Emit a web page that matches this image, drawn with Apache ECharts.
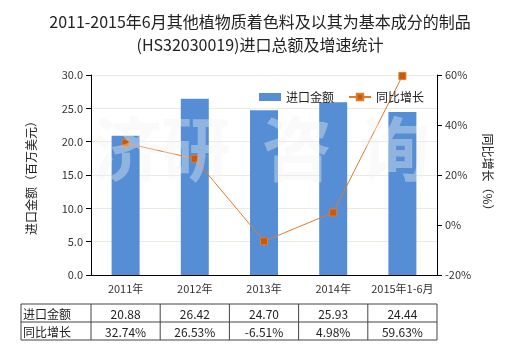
<!DOCTYPE html>
<html><head><meta charset="utf-8">
<script src="https://cdn.jsdelivr.net/npm/echarts@6/dist/echarts.min.js"></script>
<style>html,body{margin:0;padding:0;background:#fff}#c{width:520px;height:350px}</style>
</head><body><div id="c"></div>
<script>
var categories = ['2011年','2012年','2013年','2014年','2015年1-6月'];
var importValues = [20.88, 26.42, 24.70, 25.93, 24.44];
var growthValues = [32.74, 26.53, -6.51, 4.98, 59.63];
var importLabels = ['20.88','26.42','24.70','25.93','24.44'];
var growthLabels = ['32.74%','26.53%','-6.51%','4.98%','59.63%'];
var seriesNames = ['进口金额','同比增长'];

var FONT = '"Microsoft YaHei","Noto Sans CJK SC",sans-serif';
var chart = echarts.init(document.getElementById('c'), null, {renderer:'canvas'});
var option = {
  backgroundColor:'#fff',
  animation:false,
  textStyle:{fontFamily:FONT},
  title:{
    text:'2011-2015年6月其他植物质着色料及以其为基本成分的制品\n(HS32030019)进口总额及增速统计',
    left:'center', top:5,
    textStyle:{fontSize:16, fontWeight:'normal', color:'#222', lineHeight:23, fontFamily:FONT}
  },
  legend:{
    left:254, top:86, itemWidth:22, itemHeight:8, itemGap:14,
    textStyle:{fontSize:12, color:'#222', fontFamily:FONT},
    data:[{name:seriesNames[0], icon:'rect'},{name:seriesNames[1]}]
  },
  grid:{left:91, right:83, top:75, bottom:75},
  xAxis:{
    type:'category', data:categories,
    axisLine:{lineStyle:{color:'#000'}},
    axisTick:{alignWithLabel:true, length:5, lineStyle:{color:'#000'}},
    axisLabel:{interval:0, fontSize:11, color:'#333', margin:8, fontFamily:FONT}
  },
  yAxis:[{
    type:'value', min:0, max:30, interval:5,
    name:'进口金额（百万美元）', nameLocation:'middle', nameGap:54, nameRotate:90,
    nameTextStyle:{fontSize:12, color:'#222', fontFamily:FONT},
    axisLine:{show:true, lineStyle:{color:'#000'}},
    axisTick:{show:true, length:5, lineStyle:{color:'#000'}},
    axisLabel:{fontSize:11, color:'#333', formatter:function(v){return v.toFixed(1);}, fontFamily:FONT},
    splitLine:{show:true, lineStyle:{color:'#ebebdf'}}
  },{
    type:'value', min:-20, max:60, interval:20,
    axisLine:{show:true, lineStyle:{color:'#000'}},
    axisTick:{show:true, length:5, lineStyle:{color:'#000'}},
    axisLabel:{fontSize:11, color:'#333', formatter:'{value}%', fontFamily:FONT},
    splitLine:{show:false}
  }],
  series:[{
    name:seriesNames[0], type:'bar', data:importValues, barWidth:28,
    itemStyle:{color:'#558ed5'}
  },{
    name:seriesNames[1], type:'line', yAxisIndex:1, data:growthValues,
    symbol:'rect', symbolSize:7,
    lineStyle:{color:'#e07b2a', width:1},
    itemStyle:{color:'#c55a11', borderColor:'#e07b2a', borderWidth:1}
  }]
};
chart.setOption(option);

// build table, right axis name and watermark
var xs = categories.map(function(c){ return chart.convertToPixel({xAxisIndex:0}, c); });
var step = xs.length>1 ? xs[1]-xs[0] : 69;
var tLeft = 21, tTop = 304, rowH = 18;
var colEdges = [tLeft];
xs.forEach(function(x){ colEdges.push(x - step/2); });
colEdges.push(xs[xs.length-1] + step/2);
var tRight = colEdges[colEdges.length-1];
var g = [];
var lc = '#444';
for (var r=0;r<=2;r++){
  g.push({type:'line', shape:{x1:tLeft,y1:tTop+r*rowH,x2:tRight,y2:tTop+r*rowH}, style:{stroke:lc,lineWidth:1}});
}
colEdges.forEach(function(x){
  g.push({type:'line', shape:{x1:x,y1:tTop,x2:x,y2:tTop+2*rowH}, style:{stroke:lc,lineWidth:1}});
});
var rows = [importLabels, growthLabels];
rows.forEach(function(row, ri){
  var cy = tTop + ri*rowH + rowH/2 + 1;
  g.push({type:'text', x:tLeft+2, y:cy, style:{text:seriesNames[ri], fill:'#222', align:'left', verticalAlign:'middle', font:'12px '+FONT}});
  row.forEach(function(t, ci){
    g.push({type:'text', x:xs[ci], y:cy, style:{text:t, fill:'#222', align:'center', verticalAlign:'middle', font:'12px '+FONT}});
  });
});
// right axis name, rotated clockwise
g.push({type:'text', x:488, y:175, rotation:-Math.PI/2, style:{text:'同比增长（%）', fill:'#222', align:'center', verticalAlign:'middle', font:'12px '+FONT}});
// watermark
var wm = ['济','研','咨','询'];
var wmX = [127, 196, 297, 395];
wm.forEach(function(ch,i){
  g.push({type:'text', x:wmX[i], y:149, z:100, silent:true, style:{text:ch, font:'bold 70px '+FONT, fill:'rgba(242,242,242,0.38)', align:'center', verticalAlign:'middle'}});
});
chart.setOption({graphic:g});
</script>
</body></html>
